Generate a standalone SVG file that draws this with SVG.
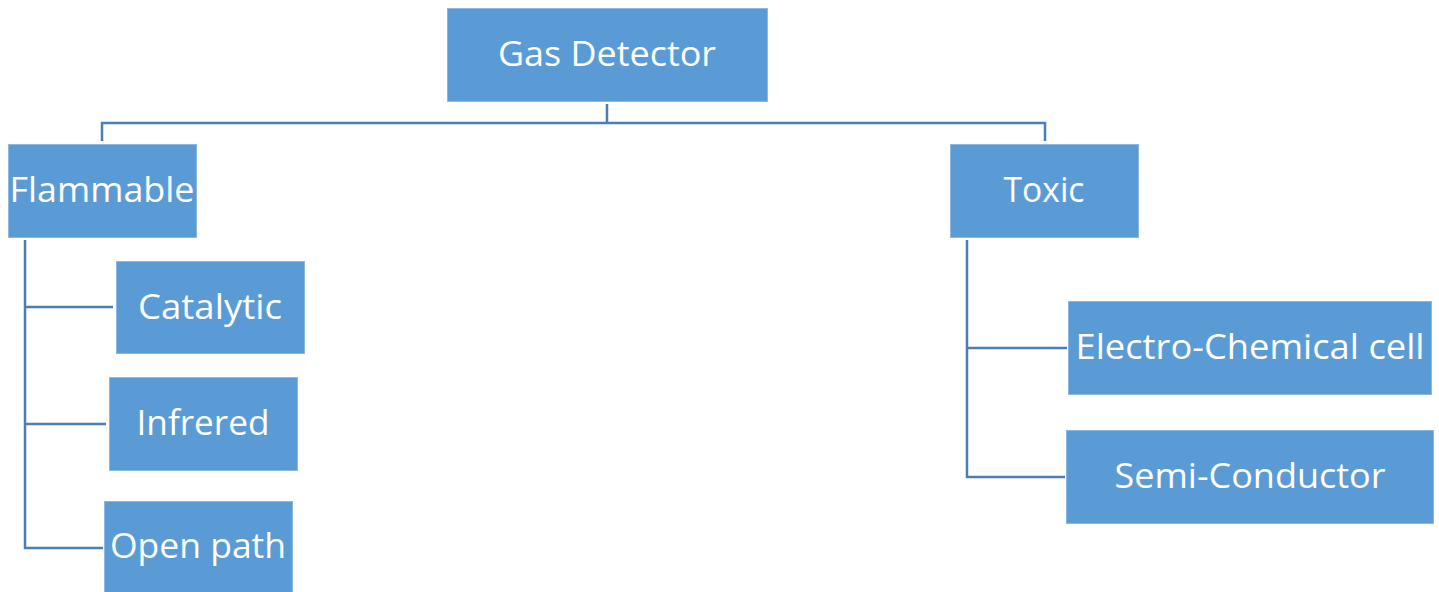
<svg xmlns="http://www.w3.org/2000/svg" width="1439" height="592" viewBox="0 0 1439 592">
<style>
.box{fill:#5B9BD5;stroke:#8CB8E2;stroke-width:1}
.lbl{fill:#ffffff;font-family:"Open Sans","Liberation Sans",sans-serif;font-size:35px;text-anchor:middle}
.con{fill:none;stroke:#4A7EB5;stroke-width:2.5}
</style>
<rect width="1439" height="592" fill="#ffffff"/>
<g id="connectors">
<path class="con" d="M607 104 V123 M102 141 V123 H1045 V141"/>
<path class="con" d="M25 240 V548 H103 M25 307 H113 M25 424 H106"/>
<path class="con" d="M967 240 V477 H1065 M967 348 H1067"/>
</g>
<g id="gas-detector"><rect class="box" x="447.5" y="8.5" width="320" height="93"/><text class="lbl" x="607" y="66" textLength="218" lengthAdjust="spacingAndGlyphs">Gas Detector</text></g>
<g id="flammable"><rect class="box" x="8.5" y="144.5" width="188" height="93"/><text class="lbl" x="102" y="202" textLength="185" lengthAdjust="spacingAndGlyphs">Flammable</text></g>
<g id="toxic"><rect class="box" x="950.5" y="144.5" width="188" height="93"/><text class="lbl" x="1044" y="202" textLength="81" lengthAdjust="spacingAndGlyphs">Toxic</text></g>
<g id="catalytic"><rect class="box" x="116.5" y="261.5" width="188" height="92"/><text class="lbl" x="210" y="319" textLength="144" lengthAdjust="spacingAndGlyphs">Catalytic</text></g>
<g id="infrered"><rect class="box" x="109.5" y="377.5" width="188" height="93"/><text class="lbl" x="203" y="435" textLength="133" lengthAdjust="spacingAndGlyphs">Infrered</text></g>
<g id="open-path"><rect class="box" x="104.5" y="501.5" width="188" height="92"/><text class="lbl" x="198" y="558" textLength="176" lengthAdjust="spacingAndGlyphs">Open path</text></g>
<g id="electro-chemical"><rect class="box" x="1068.5" y="301.5" width="363" height="93"/><text class="lbl" x="1250" y="359" textLength="349" lengthAdjust="spacingAndGlyphs">Electro-Chemical cell</text></g>
<g id="semi-conductor"><rect class="box" x="1066.5" y="430.5" width="367" height="93"/><text class="lbl" x="1250" y="488" textLength="271" lengthAdjust="spacingAndGlyphs">Semi-Conductor</text></g>
</svg>
